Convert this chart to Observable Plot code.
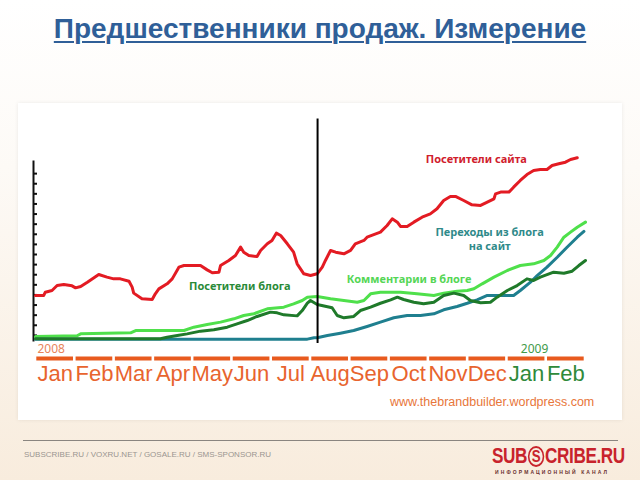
<!DOCTYPE html>
<html><head><meta charset="utf-8">
<script src="https://cdn.jsdelivr.net/npm/d3@7"></script>
<script src="https://cdn.jsdelivr.net/npm/@observablehq/plot@0.6"></script>
<style>
html,body{margin:0;padding:0}
body{width:640px;height:480px;overflow:hidden;position:relative;background:linear-gradient(to bottom,#ffffff 0%,#fdfaf6 35%,#f8ecdd 100%);font-family:"Liberation Sans",Arial,sans-serif}
#title{position:absolute;left:0;width:640px;top:13px;text-align:center;font-weight:bold;font-size:28px;color:#2f5f98;text-decoration:underline;text-decoration-thickness:2px;text-underline-offset:3px;white-space:nowrap}
#chart{position:absolute;left:18px;top:103px;width:604px;height:317px;background:#fff;box-shadow:0 0 4px rgba(0,0,0,0.08)}
#chart svg{display:block}
#url{position:absolute;left:372px;top:292px;font-size:12.5px;color:#e8763a;white-space:nowrap}
#rule{position:absolute;left:23px;top:440px;width:595px;height:1px;background:#8a8580}
#foot{position:absolute;left:24px;top:450px;font-size:8px;color:#9a9590;white-space:nowrap}
#logo{position:absolute;left:492px;top:443px;font-size:22px;font-weight:bold;color:#c8232c;white-space:nowrap;transform:scaleX(0.78);transform-origin:left top;letter-spacing:-0.5px}
#logo .c{display:inline-block;border:2px solid #c8232c;border-radius:50%;width:17px;height:17px;line-height:17px;text-align:center;font-size:17px;vertical-align:1px;margin:0 1px}
#sub{position:absolute;left:495px;top:469px;font-size:5px;font-weight:bold;color:#6a3030;letter-spacing:2.1px;white-space:nowrap}
</style></head>
<body>
<div id="title">Предшественники продаж. Измерение</div>
<div id="chart"><div id="url">www.thebrandbuilder.wordpress.com</div></div>
<div id="rule"></div>
<div id="foot">SUBSCRIBE.RU / VOXRU.NET / GOSALE.RU / SMS-SPONSOR.RU</div>
<div id="logo">SUB<span class="c">S</span>CRIBE.RU</div>
<div id="sub">ИНФОРМАЦИОННЫЙ КАНАЛ</div>
<script>
const months = ["Jan","Feb","Mar","Apr","May","Jun","Jul","Aug","Sep","Oct","Nov","Dec","Jan","Feb"];
const monthYear = [2008,2008,2008,2008,2008,2008,2008,2008,2008,2008,2008,2008,2009,2009];
const yearLabels = ["2008","2009"];
const yTicks = [1,2,3,4,5,6,7,8,9,10,11,12,13,14,15,16,17];
const seriesNames = ["Посетители сайта","Переходы из блога","на сайт","Комментарии в блоге","Посетители блога"];
const dividerMonth = 7.18;

// [month index, value]
const siteVisitors = [[0,4.95],[0.21,4.95],[0.25,5.27],[0.42,5.44],[0.55,5.93],[0.72,6.03],[0.93,5.9],[1.02,5.7],[1.15,5.84],[1.32,6.26],[1.61,7.02],[1.82,6.76],[1.99,6.59],[2.16,6.59],[2.38,6.36],[2.46,5.77],[2.5,5.18],[2.71,4.62],[2.97,4.55],[3.05,5.11],[3.14,5.6],[3.35,6.1],[3.48,6.59],[3.65,7.75],[3.78,7.91],[4.2,7.91],[4.37,7.48],[4.5,7.19],[4.67,7.25],[4.71,7.91],[4.92,8.41],[5.09,8.9],[5.22,9.73],[5.3,9.23],[5.43,8.9],[5.64,8.8],[5.73,9.4],[5.9,10.06],[6.02,10.39],[6.13,11.11],[6.24,10.88],[6.41,10.06],[6.57,9.23],[6.66,8.08],[6.83,7.09],[7.0,6.92],[7.17,7.09],[7.3,7.75],[7.38,8.41],[7.51,9.4],[7.64,9.23],[7.85,9.07],[8.02,9.4],[8.14,10.06],[8.36,10.39],[8.44,10.71],[8.78,11.21],[8.95,11.87],[9.08,12.53],[9.21,12.2],[9.29,11.77],[9.46,11.77],[9.63,12.2],[9.84,12.69],[10.05,13.02],[10.22,13.52],[10.39,14.34],[10.56,14.74],[10.69,14.74],[10.9,14.34],[11.11,13.91],[11.33,13.85],[11.5,14.18],[11.67,14.51],[11.71,15.0],[11.84,15.17],[12.05,15.17],[12.17,15.66],[12.34,16.32],[12.51,16.91],[12.68,17.31],[12.85,17.41],[13.02,17.41],[13.15,17.8],[13.32,17.97],[13.49,18.13],[13.62,18.4],[13.79,18.57]];
const blogComments = [[0,0.89],[1.06,0.96],[1.15,1.15],[2.42,1.25],[2.55,1.48],[3.78,1.48],[4.03,1.81],[4.37,2.08],[4.71,2.31],[5.05,2.64],[5.3,2.97],[5.56,3.14],[5.9,3.63],[6.32,3.79],[6.57,4.12],[6.79,4.45],[6.92,4.78],[7.17,4.85],[7.51,4.62],[7.85,4.45],[8.19,4.28],[8.36,4.45],[8.53,5.11],[8.78,5.27],[9.29,5.27],[9.71,5.11],[10.14,4.95],[10.39,5.18],[10.73,5.37],[10.99,5.44],[11.16,5.61],[11.37,6.1],[11.67,6.76],[12.01,7.42],[12.34,7.91],[12.68,8.08],[12.94,8.41],[13.11,8.9],[13.28,9.73],[13.45,10.71],[13.62,11.21],[13.79,11.7],[14.0,12.2]];
const blogVisitors = [[0,0.66],[3.18,0.66],[3.35,0.82],[3.61,0.99],[3.86,1.15],[4.2,1.42],[4.54,1.55],[4.88,1.81],[5.13,2.14],[5.39,2.47],[5.64,2.87],[5.98,3.3],[6.15,3.23],[6.32,3.03],[6.66,2.93],[6.79,3.46],[6.92,4.18],[7.0,4.45],[7.17,4.06],[7.55,3.73],[7.68,2.97],[7.85,2.74],[8.1,2.87],[8.27,3.46],[8.53,3.79],[8.78,4.18],[9.04,4.52],[9.21,4.78],[9.37,4.55],[9.63,4.28],[9.88,4.12],[10.14,4.28],[10.39,4.95],[10.65,5.18],[10.9,4.95],[11.07,4.45],[11.33,4.22],[11.58,4.28],[11.75,4.78],[12.01,5.44],[12.26,5.93],[12.51,6.59],[12.68,6.43],[12.85,6.76],[13.19,7.25],[13.45,7.15],[13.66,7.35],[13.83,7.91],[14.0,8.41]];
const blogToSite = [[0,0.63],[6.92,0.63],[7.09,0.77],[7.17,0.77],[7.43,0.99],[7.76,1.22],[8.1,1.48],[8.44,1.88],[8.78,2.31],[9.12,2.74],[9.46,2.97],[9.8,2.97],[10.14,3.13],[10.39,3.53],[10.73,3.86],[10.99,4.18],[11.24,4.52],[11.5,4.95],[11.84,4.95],[12.17,4.95],[12.34,5.44],[12.6,6.26],[12.77,6.92],[13.02,7.75],[13.28,8.73],[13.53,9.72],[13.79,10.71],[13.96,11.28]];

const RED = "#e31b23", LIGHT = "#4fe04b", TEAL = "#1f7f8f", DARK = "#1f7a2a";
const ORANGE = "#e85a1e", LABELOR = "#e8642e", GREENLBL = "#2f8a3a";
const monthData = months.map((m, i) => ({m, i, year: monthYear[i]}));
const lineOpts = (c) => ({x: d => d[0], y: d => d[1], stroke: c, strokeWidth: 3, strokeLinejoin: "round", strokeLinecap: "round"});

const W = 604, H = 317, ML = 15, MR = 37;
const chart = Plot.plot({
  width: W, height: H,
  marginLeft: ML, marginRight: MR, marginTop: 60, marginBottom: 75,
  style: {background: "transparent", overflow: "visible"},
  x: {domain: [0, 14], insetLeft: 2, axis: null},
  y: {domain: [0, 18], axis: null},
  marks: [
    Plot.frame({anchor: "left", stroke: "#111", strokeWidth: 2, insetTop: -2, insetBottom: 5}),
    Plot.tickY(yTicks, {y: d => d, stroke: "#111", strokeWidth: 2, insetRight: W - ML - MR - 4}),
    Plot.ruleY(monthData, {x1: d => d.i, x2: d => d.i + 1, y: () => -1.29, stroke: ORANGE, strokeWidth: 4, insetLeft: 1.3, insetRight: 1.3}),
    Plot.text(monthData, {x: d => d.i + 0.5, y: () => -2.8, text: "m", fill: d => d.year === 2009 ? GREENLBL : LABELOR, fontSize: 22, fontFamily: "Liberation Sans, Arial, sans-serif"}),
    Plot.text([yearLabels[0]], {x: () => 0, y: () => -0.38, text: d => d, textAnchor: "start", dx: 2, fill: "#e8845a", fontSize: 12}),
    Plot.text([yearLabels[1]], {x: () => 12.5, y: () => -0.38, text: d => d, dx: 8, fill: "#3f9a4a", fontSize: 12}),
    Plot.line(blogComments, lineOpts(LIGHT)),
    Plot.line(blogToSite, lineOpts(TEAL)),
    Plot.line(blogVisitors, lineOpts(DARK)),
    Plot.line(siteVisitors, lineOpts(RED)),
    Plot.ruleX([dividerMonth], {x: d => d, y1: 0.2, y2: 22.4, stroke: "#000", strokeWidth: 2}),
    Plot.text([seriesNames[0]], {x: () => 11.22, y: () => 18.4, text: d => d, fill: "#d0202c", fontWeight: "bold", fontSize: 11}),
    Plot.text([seriesNames[1]], {x: () => 11.56, y: () => 11.15, text: d => d, fill: "#2f8a8a", fontWeight: "bold", fontSize: 11}),
    Plot.text([seriesNames[2]], {x: () => 11.56, y: () => 9.75, text: d => d, fill: "#2f8a8a", fontWeight: "bold", fontSize: 11}),
    Plot.text([seriesNames[3]], {x: () => 9.51, y: () => 6.53, text: d => d, fill: "#55d655", fontWeight: "bold", fontSize: 11}),
    Plot.text([seriesNames[4]], {x: () => 5.2, y: () => 5.84, text: d => d, fill: "#2a8a38", fontWeight: "bold", fontSize: 11})
  ]
});
document.getElementById("chart").prepend(chart);
</script>
</body></html>
